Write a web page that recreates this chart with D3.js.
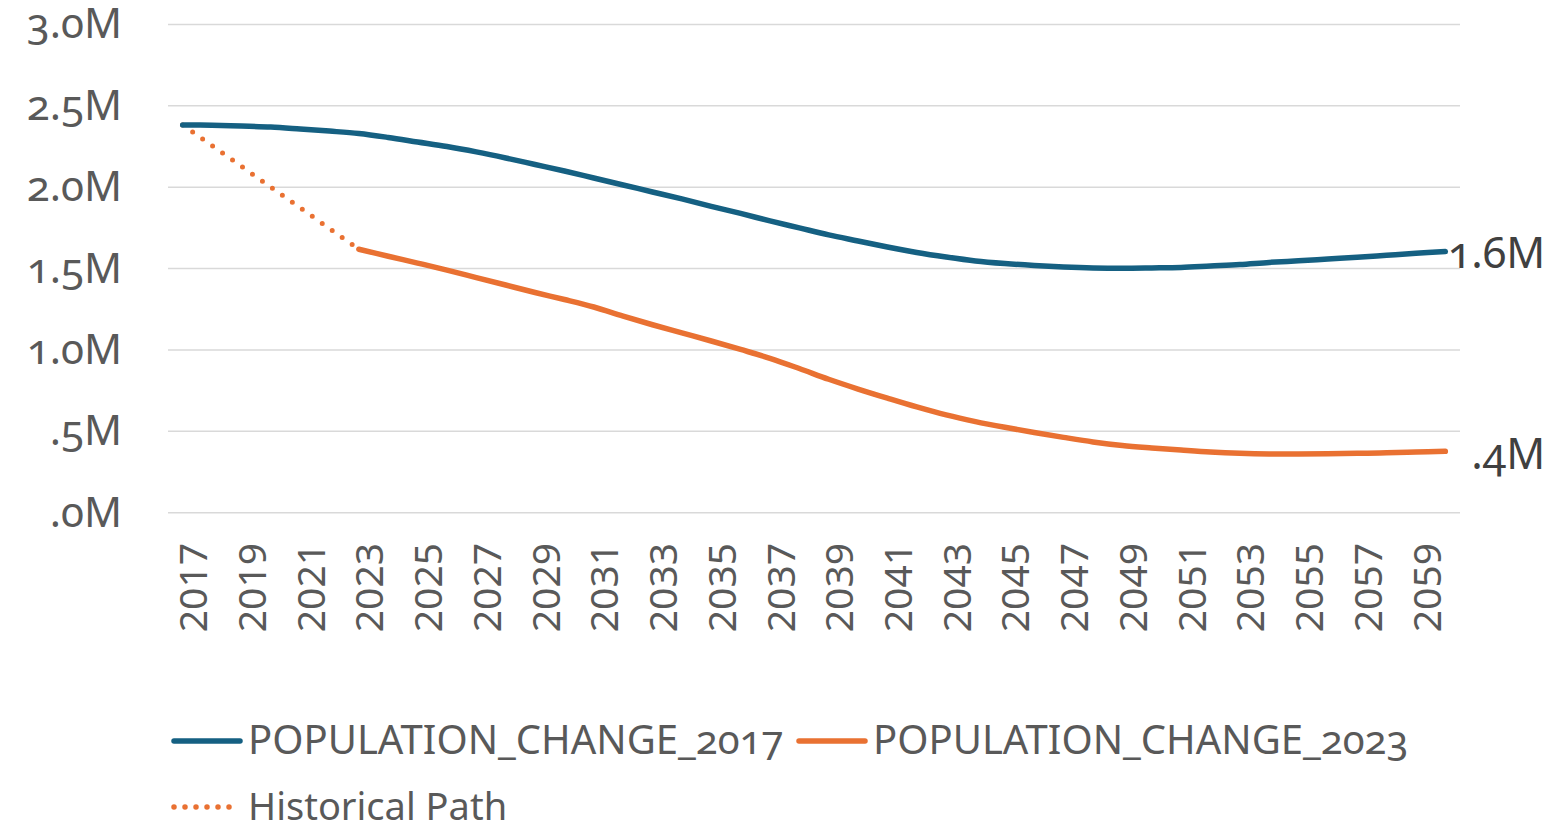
<!DOCTYPE html>
<html>
<head>
<meta charset="utf-8">
<script src="https://cdn.jsdelivr.net/npm/d3@7"></script>
<style>
  html, body { margin: 0; padding: 0; background: #ffffff; }
  svg { display: block; font-family: "Noto Sans", "Open Sans", sans-serif; }
  .onum { font-variant-numeric: oldstyle-nums; }
</style>
</head>
<body>
<svg id="chart" width="1564" height="829"></svg>
<script>
const years = d3.range(2017, 2061);
const pop2017 = [2.383, 2.381, 2.376, 2.370, 2.358, 2.345, 2.330, 2.306, 2.278, 2.250,
                 2.217, 2.180, 2.140, 2.100, 2.057, 2.014, 1.971, 1.928, 1.882, 1.839,
                 1.793, 1.750, 1.707, 1.670, 1.633, 1.599, 1.571, 1.547, 1.531, 1.519,
                 1.510, 1.504, 1.502, 1.504, 1.507, 1.516, 1.525, 1.538, 1.548, 1.559,
                 1.570, 1.582, 1.594, 1.605].map(v => v * 1e6);
const pop2023 = [null, null, null, null, null, null, 1.619, 1.576, 1.534, 1.491,
                 1.445, 1.399, 1.353, 1.310, 1.264, 1.208, 1.155, 1.105, 1.055, 1.003,
                 0.949, 0.886, 0.820, 0.760, 0.704, 0.650, 0.601, 0.560, 0.525, 0.493,
                 0.463, 0.435, 0.413, 0.398, 0.385, 0.373, 0.365, 0.361, 0.361, 0.362,
                 0.365, 0.368, 0.373, 0.377].map(v => v == null ? null : v * 1e6);
const historical = [2.383, null, null, null, null, null, 1.619].concat(new Array(37).fill(null))
                 .map(v => v == null ? null : v * 1e6);
const yTickValues = [0, 0.5e6, 1.0e6, 1.5e6, 2.0e6, 2.5e6, 3.0e6];
const yTickLabels = [".0M", ".5M", "1.0M", "1.5M", "2.0M", "2.5M", "3.0M"];
const xTickYears = years.filter(y => (y - 2017) % 2 === 0);
const endLabels = ["1.6M", ".4M"];
const seriesNames = ["POPULATION_CHANGE_2017", "POPULATION_CHANGE_2023", "Historical Path"];

const BLUE = "#156082", ORANGE = "#E97132", GRID = "#d9d9d9", TEXT = "#595959";

const svg = d3.select("#chart");
const x = d3.scalePoint().domain(years).range([168, 1460]).padding(0.5);
const y = d3.scaleLinear().domain([0, 3e6]).range([512.7, 24.5]);

// gridlines
svg.append("g").selectAll("line").data(yTickValues).join("line")
  .attr("x1", 168).attr("x2", 1460)
  .attr("y1", d => y(d)).attr("y2", d => y(d))
  .attr("stroke", GRID).attr("stroke-width", 1.5);

// y axis
const yAxis = svg.append("g").attr("transform", "translate(122,0)")
  .call(d3.axisLeft(y).tickValues(yTickValues).tickSize(0).tickPadding(0)
        .tickFormat((d, i) => yTickLabels[i]));
yAxis.select(".domain").remove();
yAxis.selectAll("text").attr("class", "onum")
  .attr("font-family", "'Noto Sans', sans-serif").attr("font-size", 42)
  .attr("fill", TEXT).attr("dy", "0.32em").attr("x", 0);

// x axis
const xAxis = svg.append("g").attr("transform", "translate(0,513)")
  .call(d3.axisBottom(x).tickValues(xTickYears).tickSize(0));
xAxis.select(".domain").remove();
xAxis.selectAll(".tick text")
  .attr("font-family", "'Noto Sans', sans-serif").attr("font-size", 39)
  .attr("fill", TEXT)
  .attr("text-anchor", "end")
  .attr("transform", "translate(10,30) rotate(-90)")
  .attr("x", 0).attr("y", 0).attr("dy", "0.36em");

const pts = arr => years.map((yr, i) => ({yr, v: arr[i]})).filter(d => d.v != null);
const line = d3.line().x(d => x(d.yr)).y(d => y(d.v)).curve(d3.curveCatmullRom.alpha(0.5));
const straight = d3.line().x(d => x(d.yr)).y(d => y(d.v));

// historical dotted
svg.append("path").datum(pts(historical)).attr("d", straight)
  .attr("fill", "none").attr("stroke", ORANGE).attr("stroke-width", 5)
  .attr("stroke-linecap", "round").attr("stroke-dasharray", "0,12.2");

svg.append("path").datum(pts(pop2017)).attr("d", line)
  .attr("fill", "none").attr("stroke", BLUE).attr("stroke-width", 5.5)
  .attr("stroke-linecap", "round").attr("stroke-linejoin", "round");
svg.append("path").datum(pts(pop2023)).attr("d", line)
  .attr("fill", "none").attr("stroke", ORANGE).attr("stroke-width", 5.5)
  .attr("stroke-linecap", "round").attr("stroke-linejoin", "round");

// end labels
const lastIdx = years.length - 1;
const endData = [
  {label: endLabels[0], v: pop2017[lastIdx], dy: 16},
  {label: endLabels[1], v: pop2023[lastIdx], dy: 18}
];
svg.append("g").selectAll("text").data(endData).join("text")
  .attr("class", "onum")
  .attr("x", x(years[lastIdx]) + 100).attr("y", d => y(d.v) + d.dy)
  .attr("text-anchor", "end")
  .attr("font-size", 43).attr("fill", "#404040")
  .text(d => d.label);

// legend
const legend = svg.append("g");
const items = [
  {name: seriesNames[0], color: BLUE, dash: null, x: 172, y: 741, fs: 40},
  {name: seriesNames[1], color: ORANGE, dash: null, x: 797, y: 741, fs: 40},
  {name: seriesNames[2], color: ORANGE, dash: "0,11", x: 172, y: 807, fs: 38}
];
items.forEach(it => {
  const g = legend.append("g");
  g.append("line").attr("x1", it.x + 2).attr("x2", it.x + (it.dash ? 63 : 68))
    .attr("y1", it.y).attr("y2", it.y)
    .attr("stroke", it.color).attr("stroke-width", 5.5)
    .attr("stroke-linecap", "round")
    .attr("stroke-dasharray", it.dash);
  g.append("text").attr("class", "onum").attr("x", it.x + 76).attr("y", it.y + 13)
    .attr("font-size", it.fs).attr("fill", TEXT).text(it.name);
});
</script>
</body>
</html>
